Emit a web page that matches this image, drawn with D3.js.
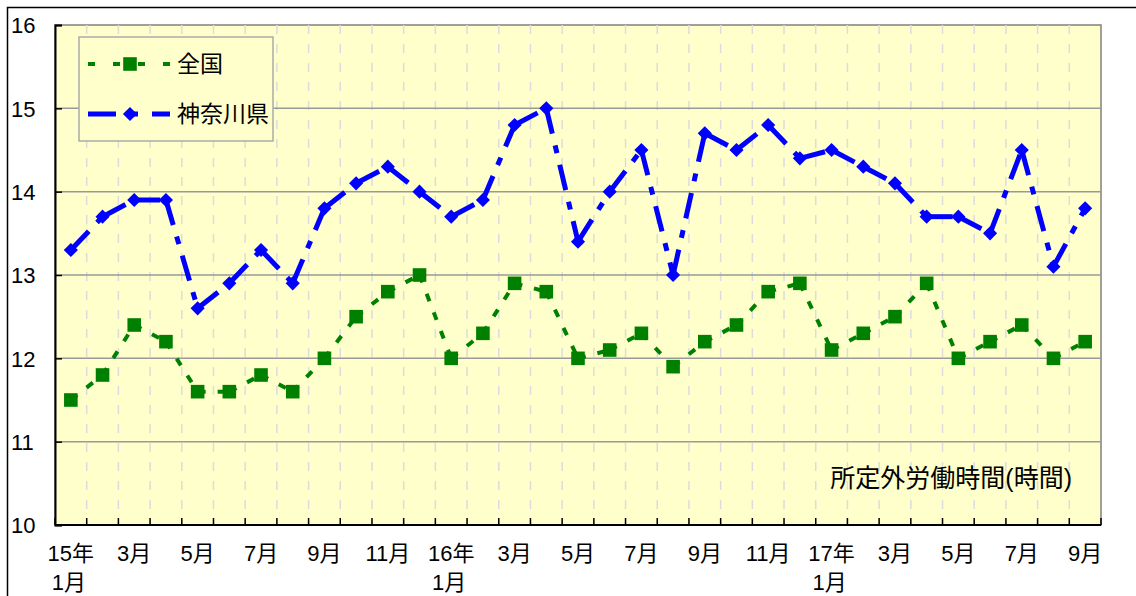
<!DOCTYPE html>
<html>
<head>
<meta charset="utf-8">
<script src="https://cdn.jsdelivr.net/npm/d3@7"></script>
<style>
  body { margin: 0; background: #fff; }
  text { font-family: Arial, "Liberation Sans", "Noto Sans CJK JP", sans-serif; fill: #000; }
</style>
</head>
<body>
<svg id="chart" width="1136" height="596"></svg>
<script>
// months 15年1月 .. 17年9月
var months = [];
for (var yy = 15; yy <= 17; yy++) {
    for (var mm = 1; mm <= 12; mm++) {
	if (yy == 17 && mm > 9) break;
	months.push(yy + "-" + mm);
    }
}

var zenkoku = [11.5, 11.8, 12.4, 12.2, 11.6, 11.6, 11.8, 11.6, 12.0, 12.5, 12.8, 13.0,
	       12.0, 12.3, 12.9, 12.8, 12.0, 12.1, 12.3, 11.9, 12.2, 12.4, 12.8, 12.9,
	       12.1, 12.3, 12.5, 12.9, 12.0, 12.2, 12.4, 12.0, 12.2];

var kanagawa = [13.3, 13.7, 13.9, 13.9, 12.6, 12.9, 13.3, 12.9, 13.8, 14.1, 14.3, 14.0,
		13.7, 13.9, 14.8, 15.0, 13.4, 14.0, 14.5, 13.0, 14.7, 14.5, 14.8, 14.4,
		14.5, 14.3, 14.1, 13.7, 13.7, 13.5, 14.5, 13.1, 13.8];

var yTicks = [10, 11, 12, 13, 14, 15, 16];
var seriesNames = ["全国", "神奈川県"];
var axisTitle = "所定外労働時間(時間)";

var svg = d3.select("#chart");
var pL = 55, pR = 1101, pT = 25, pB = 525;
var FS = 22;

// outer frame
svg.append("path").attr("d", "M7.5,596 V7.5 H1136")
    .attr("fill", "none").attr("stroke", "#000").attr("stroke-width", 1.5);

var x = d3.scaleBand().domain(months).range([pL, pR]);
var y = d3.scaleLinear().domain([10, 16]).range([pB, pT]);
var cx = function(i){ return x(months[i]) + x.bandwidth() / 2; };

// plot background
svg.append("rect").attr("x", pL).attr("y", pT)
    .attr("width", pR - pL).attr("height", pB - pT)
    .attr("fill", "#FFFFCC").attr("stroke", "#808080").attr("stroke-width", 1.5);

// vertical dashed grid at band edges
svg.append("g").selectAll("line").data(months.slice(1)).enter()
    .append("line")
    .attr("x1", function(d){ return x(d); }).attr("x2", function(d){ return x(d); })
    .attr("y1", pT).attr("y2", pB)
    .attr("stroke", "#dcdcdc").attr("stroke-width", 1.5)
    .attr("stroke-dasharray", "9,10");

// horizontal grid
svg.append("g").selectAll("line").data(yTicks.slice(1, -1)).enter()
    .append("line")
    .attr("x1", pL).attr("x2", pR)
    .attr("y1", function(d){ return y(d); }).attr("y2", function(d){ return y(d); })
    .attr("stroke", "#999").attr("stroke-width", 1.5);

// y axis
var yAxis = svg.append("g").attr("transform", "translate(" + pL + ",0)")
    .call(d3.axisLeft(y).tickValues(yTicks).tickSize(-7).tickFormat(d3.format("d")));
yAxis.select(".domain").attr("stroke", "#000").attr("stroke-width", 2);
yAxis.selectAll(".tick line").attr("stroke", "#000").attr("stroke-width", 1.5);
yAxis.selectAll("text").attr("font-size", FS).attr("text-anchor", "start").attr("x", -44).attr("dy", "0.35em");

// x axis (ticks at band edges)
var edges = months.map(function(d){ return x(d); }).concat([pR]);
var xg = svg.append("g");
xg.append("line").attr("x1", pL).attr("x2", pR).attr("y1", pB).attr("y2", pB)
    .attr("stroke", "#000").attr("stroke-width", 2);
xg.selectAll("line.tk").data(edges).enter().append("line").attr("class", "tk")
    .attr("x1", function(d){ return d; }).attr("x2", function(d){ return d; })
    .attr("y1", pB).attr("y2", pB - 7)
    .attr("stroke", "#000").attr("stroke-width", 1.5);

months.forEach(function(m, i){
    var p = m.split("-"), mo = +p[1];
    if (mo % 2 == 0) return;
    var tx = cx(i);
    if (mo == 1) {
	xg.append("text").attr("x", tx).attr("y", 561).attr("text-anchor", "middle")
	    .attr("font-size", FS).text(p[0] + "年");
	xg.append("text").attr("x", tx - 2).attr("y", 590).attr("text-anchor", "middle")
	    .attr("font-size", FS).text("1月");
    } else {
	xg.append("text").attr("x", tx).attr("y", 561).attr("text-anchor", "middle")
	    .attr("font-size", FS).text(mo + "月");
    }
});

// draw series; each segment separately so the dash restarts at every point (like Excel)
function drawSeries(vals, color, width, dash, rot, msize) {
    var g = svg.append("g");
    var line = d3.line().x(function(d){ return d[0]; }).y(function(d){ return d[1]; });
    for (var i = 0; i < vals.length - 1; i++) {
	g.append("path")
	    .attr("d", line([[cx(i), y(vals[i])], [cx(i + 1), y(vals[i + 1])]]))
	    .attr("fill", "none").attr("stroke", color).attr("stroke-width", width)
	    .attr("stroke-dasharray", dash);
    }
    g.selectAll("path.mk").data(vals).enter().append("path").attr("class", "mk")
	.attr("d", d3.symbol().type(d3.symbolSquare).size(msize))
	.attr("transform", function(d, i){
	    return "translate(" + cx(i) + "," + y(d) + ") rotate(" + rot + ")";
	})
	.attr("fill", color);
}

drawSeries(zenkoku, "#008000", 4, "8,12", 0, 185);
drawSeries(kanagawa, "#0000FF", 5, "26,12,8,12", 45, 100);

// legend
var lg = svg.append("g");
lg.append("rect").attr("x", 79).attr("y", 37).attr("width", 194).attr("height", 104)
    .attr("fill", "#FFFFCC").attr("stroke", "#aaa").attr("stroke-width", 1.5);
var legendItems = [
    {name: seriesNames[0], color: "#008000", width: 4, dash: "7,18", size: 185, rot: 0, ly: 64},
    {name: seriesNames[1], color: "#0000FF", width: 5, dash: "28,14,8,14", size: 100, rot: 45, ly: 114}
];
legendItems.forEach(function(it){
    lg.append("line").attr("x1", 88).attr("x2", 170).attr("y1", it.ly).attr("y2", it.ly)
	.attr("stroke", it.color).attr("stroke-width", it.width).attr("stroke-dasharray", it.dash);
    lg.append("path").attr("d", d3.symbol().type(d3.symbolSquare).size(it.size))
	.attr("transform", "translate(130," + it.ly + ") rotate(" + it.rot + ")")
	.attr("fill", it.color);
    lg.append("text").attr("x", 177).attr("y", it.ly).attr("dy", "0.35em")
	.attr("font-size", 23).text(it.name);
});

// axis title inside plot
svg.append("text").attr("x", 1072).attr("y", 478).attr("dy", "0.35em")
    .attr("text-anchor", "end").attr("font-size", 25).text(axisTitle);
</script>
</body>
</html>
